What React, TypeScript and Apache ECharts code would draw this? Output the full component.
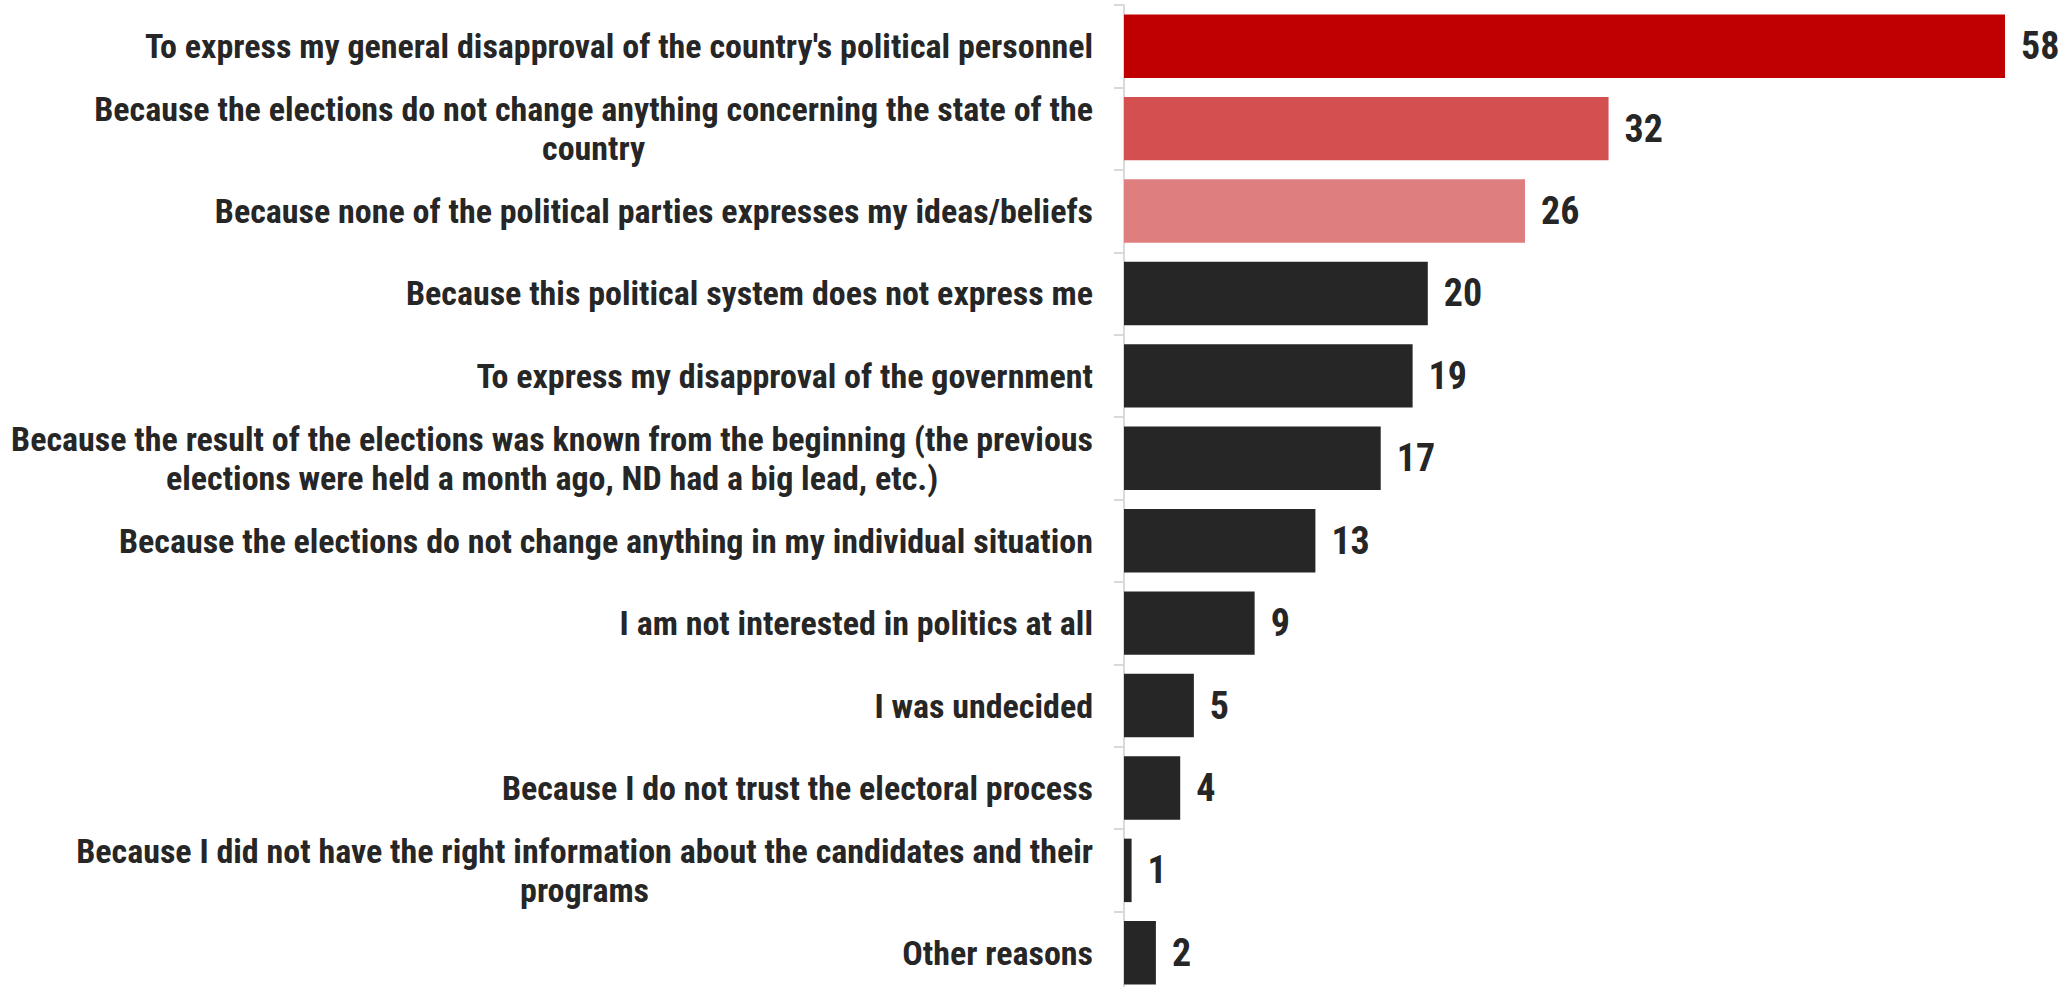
import React, { useEffect, useRef } from "react";
import * as echarts from "echarts";

const categories: string[] = [
  "To express my general disapproval of the country's political personnel",
  "Because the elections do not change anything concerning the state of the\ncountry",
  "Because none of the political parties expresses my ideas/beliefs",
  "Because this political system does not express me",
  "To express my disapproval of the government",
  "Because the result of the elections was known from the beginning (the previous\nelections were held a month ago, ND had a big lead, etc.)",
  "Because the elections do not change anything in my individual situation",
  "I am not interested in politics at all",
  "I was undecided",
  "Because I do not trust the electoral process",
  "Because I did not have the right information about the candidates and their\nprograms",
  "Other reasons",
];

const values: number[] = [58, 31.9, 26.4, 20, 19, 16.9, 12.6, 8.6, 4.6, 3.7, 0.5, 2.1];
const valueLabels: string[] = ["58", "32", "26", "20", "19", "17", "13", "9", "5", "4", "1", "2"];

const barColors: string[] = [
  "#C00000",
  "#D34F50",
  "#DE7E7E",
  "#262626",
  "#262626",
  "#262626",
  "#262626",
  "#262626",
  "#262626",
  "#262626",
  "#262626",
  "#262626",
];

const FONT = "'Roboto Condensed', 'Liberation Sans Narrow', 'Arial Narrow', sans-serif";

export default function App() {
  const ref = useRef<HTMLDivElement>(null);
  useEffect(() => {
    if (!ref.current) return;
    const chart = echarts.init(ref.current, undefined, { renderer: "svg" });
    chart.setOption({
      animation: false,
      backgroundColor: "#ffffff",
      grid: {
        left: 1124,
        right: 31.6,
        top: 5,
        height: 989,
        containLabel: false,
        outerBoundsMode: "none",
      },
      xAxis: {
        type: "value",
        min: 0,
        max: 60,
        show: false,
      },
      yAxis: {
        type: "category",
        inverse: true,
        data: categories,
        axisLine: { show: true, lineStyle: { color: "#D9D9D9", width: 2 } },
        axisTick: { show: true, length: 10, lineStyle: { color: "#D9D9D9", width: 2 } },
        axisLabel: {
          margin: 31,
          formatter: (v: string) =>
            v
              .split("\n")
              .map((l) => "{c|" + l + "}")
              .join("\n"),
          rich: {
            c: {
              fontFamily: FONT,
              fontSize: 34,
              fontWeight: "bold",
              color: "#262626",
              align: "center",
              lineHeight: 39,
            },
          },
        },
        splitLine: { show: false },
      },
      series: [
        {
          type: "bar",
          data: values.map((v, i) => ({ value: v, itemStyle: { color: barColors[i] } })),
          barCategoryGap: "23%",
          label: {
            show: true,
            position: "right",
            distance: 16,
            formatter: (p: any) => valueLabels[p.dataIndex],
            fontFamily: FONT,
            fontSize: 38,
            fontWeight: "bold",
            color: "#262626",
          },
        },
      ],
    });
    return () => chart.dispose();
  }, []);
  return (
    <div
      ref={ref}
      style={{ position: "fixed", left: 0, top: 0, width: 2067, height: 987, background: "#fff" }}
    />
  );
}
